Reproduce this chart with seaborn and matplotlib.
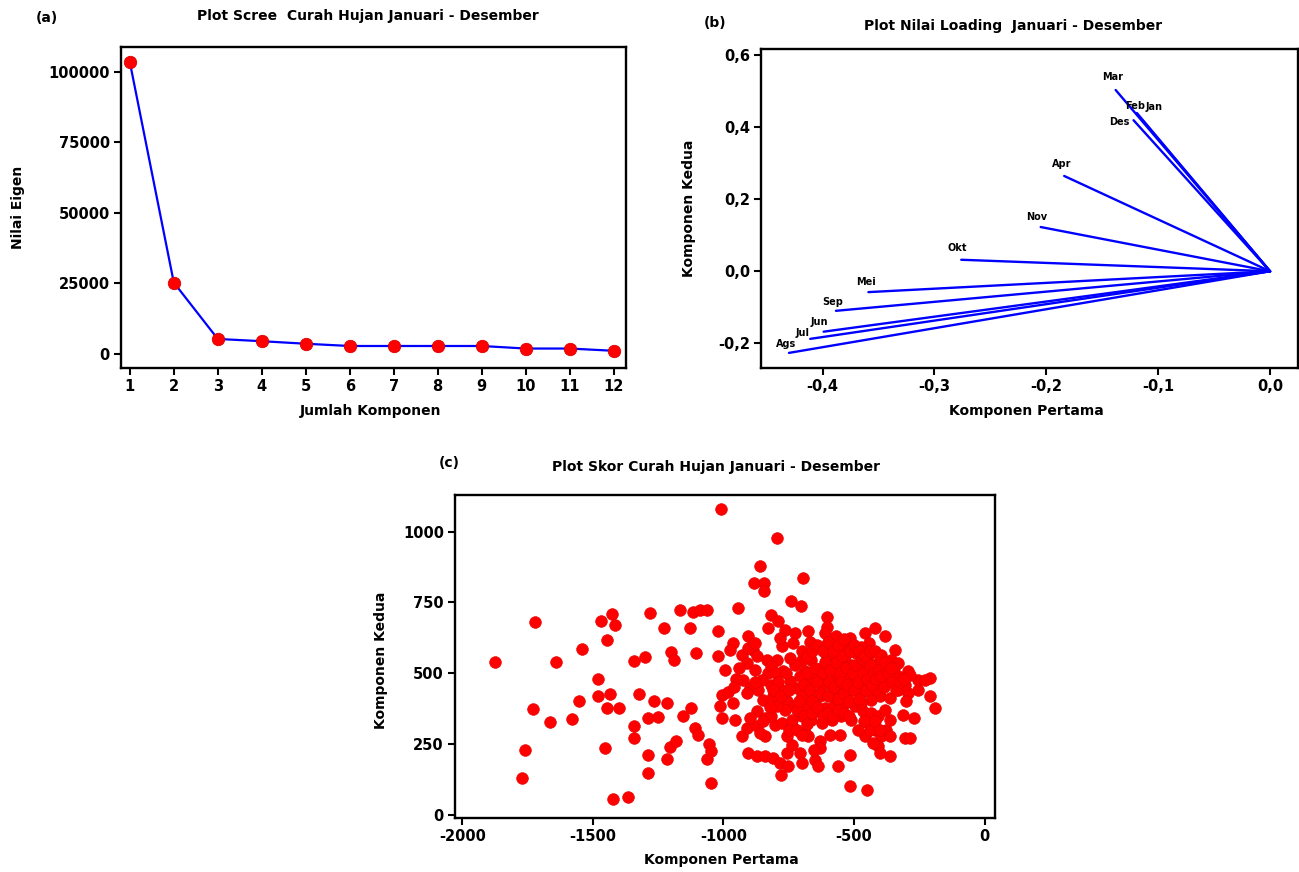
import numpy as np
import matplotlib
matplotlib.use('Agg')
import matplotlib.pyplot as plt
import seaborn as sns
import pandas as pd
from matplotlib.ticker import FuncFormatter

# (a) scree
komponen = [1, 2, 3, 4, 5, 6, 7, 8, 9, 10, 11, 12]
nilai_eigen = [103500, 25300, 5300, 4500, 3600, 2800, 2800, 2800, 2800, 1900, 1900, 1100]

# (b) loadings
bulan = ['Jan', 'Feb', 'Mar', 'Apr', 'Mei', 'Jun', 'Jul', 'Ags', 'Sep', 'Okt', 'Nov', 'Des']
loading_pertama = [-0.114, -0.119, -0.138, -0.184, -0.359, -0.399, -0.411, -0.430, -0.388, -0.276, -0.205, -0.122]
loading_kedua = [0.420, 0.440, 0.504, 0.265, -0.058, -0.168, -0.188, -0.227, -0.110, 0.032, 0.123, 0.420]

# (c) scores
skor_pertama = [
    -1875, -1720, -1730, -1760, -1770, -1663, -1641, -1581, -1554, -1543, -1479, -1479, -1470, -1426,
    -1415, -1445, -1435, -1445, -1399, -1454, -1424, -1364, -1343, -1343, -1343, -1324, -1299, -1288,
    -1288, -1288, -1280, -1264, -1252, -1229, -1217, -1217, -1201, -1188, -1206, -1182, -1165, -1153,
    -1127, -1125, -1117, -1106, -1109, -1098, -1090, -1062, -1062, -1054, -1046, -1046,
    -1011, -793, -861, -884, -845, -845, -695, -742, -703, -946, -1019,
    -818, -790, -829, -765, -727, -676, -669, -603, -605, -612, -905, -962, -975, -930, -886, -911,
    -835, -777, -733, -771, -1020, -994, -924, -899, -911, -1007, -982, -1013, -962, -1007, -956,
    -930, -911, -873, -873, -841, -841, -905, -873, -841, -810, -784, -780, -752, -758, -739, -758,
    -803, -816, -777, -739, -707, -701, -676, -650, -637, -631, -631, -593, -554, -561, -516, -516,
    -452, -363, -306, -287, -312, -270, -210, -191, -210, -255, -293, -344, -382, -418, -459, -444,
    -516, -529, -580, -561, -491, -446, -395, -357, -376, -331, -287, -255, -293, -331, -395, -402,
    -363, -433, -472, -510, -548, -586, -624, -663, -701, -727, -688, -650, -612, -567, -529, -497,
    -459, -510, -548, -586, -631, -676, -720, -746, -777, -816, -829, -810, -758, -727, -688, -650,
    -612, -574, -535, -497, -465, -433, -408, -446, -421, -395, -408, -376, -459, -484, -510, -548,
    -586, -624, -663, -701, -739, -765, -796, -848, -867, -854, -880, -472, -624, -676, -707, -746,
    -796, -816, -605, -535, -567, -472, -408, -331, -306, -229, -376, -421, -433, -472, -382, -363,
    -427, -402, -363, -905, -784, -880, -300, -608, -655, -687,
    -700, -690, -680, -670, -660, -650, -640, -630, -620, -610, -600, -595, -590, -580, -575, -570,
    -560, -555, -550, -545, -540, -530, -525, -520, -515, -505, -500, -495, -485, -480, -470, -465,
    -455, -450, -440, -430, -425, -415, -405, -395, -385, -370, -355, -345, -340, -325, -310,
    -720, -710, -690, -660, -640, -620, -600, -580, -560, -540, -520,
    -700, -680, -660, -640, -620, -600, -580, -560, -540, -500, -480, -460, -440, -420, -400, -380, -360,
    -800, -790, -810, -780, -760, -750, -820, -850, -860, -900, -950, -940, -960, -880, -870,
    -750, -720, -700, -680, -460, -440, -420, -400,
]
skor_kedua = [
    540, 680, 375, 230, 130, 327, 541, 338, 401, 584, 478, 419, 684, 708,
    672, 616, 425, 377, 377, 236, 55, 62, 542, 312, 271, 427, 558, 342,
    212, 147, 713, 401, 345, 658, 393, 197, 575, 548, 238, 259, 725, 350,
    658, 377, 716, 570, 307, 283, 723, 722, 195, 248, 224, 112,
    1079, 979, 879, 820, 820, 790, 837, 755, 737, 731, 649,
    707, 683, 660, 654, 642, 648, 612, 697, 665, 642, 630, 607, 583, 565, 583, 536,
    548, 595, 607, 506, 559, 512, 477, 447, 429, 424, 435, 383, 394, 341, 336,
    277, 306, 312, 365, 341, 277, 217, 206, 206, 200, 182, 141, 171, 218, 247, 277,
    318, 347, 323, 312, 218, 182, 277, 194, 171, 259, 235, 283, 283, 171, 212, 100,
    88, 206, 271, 271, 353, 341, 418, 377, 483, 477, 506, 583, 630, 659, 642, 606,
    624, 594, 601, 571, 571, 559, 565, 548, 512, 489, 495, 442, 429, 442, 447, 418,
    412, 489, 512, 530, 530, 536, 518, 548, 548, 530, 506, 488, 465, 483, 495, 471,
    453, 442, 442, 429, 418, 429, 447, 471, 442, 459, 500, 418, 400, 383, 383, 371,
    377, 389, 394, 383, 365, 359, 347, 323, 300, 277, 241, 300, 277, 300, 336, 347,
    336, 323, 336, 347, 336, 371, 383, 406, 442, 477, 512, 429, 453, 465, 489, 553,
    548, 524, 559, 559, 630, 594, 536, 536, 459, 477, 465, 442, 406, 394, 371, 336,
    253, 218, 277, 588, 624, 606, 401, 596, 230, 289,
    420, 460, 500, 440, 400, 520, 470, 430, 500, 540, 420, 470, 510, 380, 450, 540,
    410, 500, 470, 560, 430, 520, 460, 400, 580, 500, 440, 530, 470, 410, 550, 500,
    440, 480, 530, 460, 500, 480, 510, 490, 450, 500, 470, 520, 440, 470, 480,
    370, 400, 350, 360, 380, 350, 360, 350, 370, 360, 350,
    580, 560, 580, 600, 580, 610, 580, 600, 620, 600, 580, 560, 580, 580, 560, 540, 520,
    500, 470, 440, 420, 500, 440, 380, 330, 290, 340, 480, 520, 450, 470, 560,
    300, 300, 280, 320, 330, 300, 330, 300,
]

W, H = 1299, 872


def box(left, top, right, bottom):
    return [left / W, 1 - bottom / H, (right - left) / W, (bottom - top) / H]


def fxy(x, y):
    return x / W, 1 - y / H


def koma(v, pos):
    return f'{v:.1f}'.replace('.', ',')


sns.set_style('ticks')
plt.rcParams['font.family'] = ['DejaVu Sans']
plt.rcParams['font.weight'] = 'bold'
plt.rcParams['axes.unicode_minus'] = False
plt.rcParams['axes.linewidth'] = 1.7
plt.rcParams['text.color'] = 'black'
plt.rcParams['axes.labelcolor'] = 'black'
plt.rcParams['xtick.color'] = 'black'
plt.rcParams['ytick.color'] = 'black'
plt.rcParams['axes.edgecolor'] = 'black'

fig = plt.figure(figsize=(W / 100, H / 100), dpi=100)

ax_a = fig.add_axes(box(121, 47, 626, 368))
ax_b = fig.add_axes(box(761, 49, 1298, 368))
ax_c = fig.add_axes(box(455, 495, 995, 818))

# (a)
df_scree = pd.DataFrame({'komponen': komponen, 'eigen': nilai_eigen})
sns.lineplot(data=df_scree, x='komponen', y='eigen', color='blue', lw=1.6, ax=ax_a)
sns.scatterplot(data=df_scree, x='komponen', y='eigen', color='red', s=80, edgecolor='#dd0000',
                linewidth=0.6, zorder=3, ax=ax_a)
ax_a.set_xlim(0.8, 12.28)
ax_a.set_ylim(-5000, 108800)
ax_a.set_xticks(komponen)
ax_a.set_yticks([0, 25000, 50000, 75000, 100000])

# (b)
rows = []
for b, x, y in zip(bulan, loading_pertama, loading_kedua):
    rows.append({'bulan': b, 'x': 0.0, 'y': 0.0})
    rows.append({'bulan': b, 'x': x, 'y': y})
df_load = pd.DataFrame(rows)
sns.lineplot(data=df_load, x='x', y='y', units='bulan', estimator=None, sort=False,
             color='blue', lw=1.7, ax=ax_b)
label_offset = {'Jan': (12, 13), 'Feb': (-2, 7), 'Mar': (-3, 13), 'Apr': (-2, 12), 'Mei': (-2, 10),
                'Jun': (-4, 10), 'Jul': (-8, 6), 'Ags': (-3, 9), 'Sep': (-3, 9), 'Okt': (-4, 12),
                'Nov': (-4, 10), 'Des': (-14, -2)}
for b, x, y in zip(bulan, loading_pertama, loading_kedua):
    ax_b.annotate(b, (x, y), xytext=label_offset[b], textcoords='offset pixels',
                  ha='center', va='center', fontsize=7, fontweight='bold')
ax_b.set_xlim(-0.455, 0.025)
ax_b.set_ylim(-0.269, 0.618)
ax_b.set_xticks([-0.4, -0.3, -0.2, -0.1, 0.0])
ax_b.set_yticks([-0.2, 0.0, 0.2, 0.4, 0.6])
ax_b.xaxis.set_major_formatter(FuncFormatter(koma))
ax_b.yaxis.set_major_formatter(FuncFormatter(koma))

# (c)
df_skor = pd.DataFrame({'pertama': skor_pertama, 'kedua': skor_kedua})
sns.scatterplot(data=df_skor, x='pertama', y='kedua', color='red', s=72, edgecolor='#e00000',
                linewidth=0.4, ax=ax_c)
ax_c.set_xlim(-2028, 40)
ax_c.set_ylim(-12, 1130)
ax_c.set_xticks([-2000, -1500, -1000, -500, 0])
ax_c.set_yticks([0, 250, 500, 750, 1000])

for ax in (ax_a, ax_b, ax_c):
    ax.set_xlabel('')
    ax.set_ylabel('')
    for s in ax.spines.values():
        s.set_visible(True)
        s.set_color('black')
    ax.tick_params(direction='out', length=5, width=1.5, labelsize=10.5, pad=3, colors='black')

lab = dict(fontsize=10, fontweight='bold', ha='center', va='center')
fig.text(*fxy(47, 18), '(a)', **lab)
fig.text(*fxy(715, 23), '(b)', **lab)
fig.text(*fxy(449, 463), '(c)', **lab)

tit = dict(fontsize=10, fontweight='bold', ha='center', va='center')
fig.text(*fxy(368, 16), 'Plot Scree  Curah Hujan Januari - Desember', **tit)
fig.text(*fxy(1013, 26), 'Plot Nilai Loading  Januari - Desember', **tit)
fig.text(*fxy(716, 467), 'Plot Skor Curah Hujan Januari - Desember', **tit)

fig.text(*fxy(371, 411), 'Jumlah Komponen', **lab)
fig.text(*fxy(1026, 411), 'Komponen Pertama', **lab)
fig.text(*fxy(721, 860), 'Komponen Pertama', **lab)
fig.text(*fxy(18, 207), 'Nilai Eigen', rotation=90, **lab)
fig.text(*fxy(689, 208), 'Komponen Kedua', rotation=90, **lab)
fig.text(*fxy(381, 660), 'Komponen Kedua', rotation=90, **lab)

fig.savefig('out.png', dpi=100)
